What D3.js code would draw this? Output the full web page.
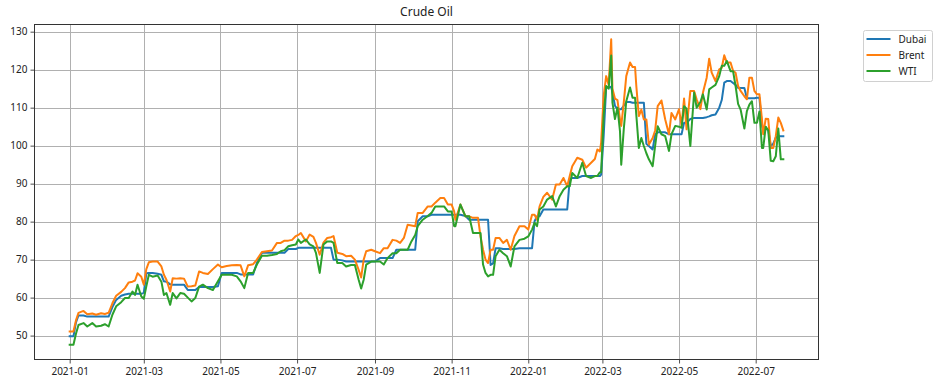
<!DOCTYPE html>
<html>
<head>
<meta charset="utf-8">
<script src="https://cdn.jsdelivr.net/npm/d3@7"></script>
<style>
  body { margin: 0; background: #fff; }
  #viz svg { display: block; }
</style>
</head>
<body>
<div id="viz"></div>
<script>
// dates shared by all three series (grouped by month)
const dates = [
  "2021-01-01","2021-01-04","2021-01-06","2021-01-08","2021-01-12","2021-01-15","2021-01-19","2021-01-22","2021-01-26","2021-01-29",
  "2021-02-01","2021-02-04","2021-02-07","2021-02-11","2021-02-14","2021-02-17","2021-02-20","2021-02-22","2021-02-24","2021-02-27",
  "2021-03-01","2021-03-03","2021-03-05","2021-03-08","2021-03-12","2021-03-15","2021-03-17","2021-03-19","2021-03-22","2021-03-24","2021-03-27","2021-03-30",
  "2021-04-02","2021-04-05","2021-04-08","2021-04-11","2021-04-14","2021-04-17","2021-04-21","2021-04-25","2021-04-29",
  "2021-05-02","2021-05-06","2021-05-10","2021-05-14","2021-05-17","2021-05-20","2021-05-23","2021-05-27","2021-05-30",
  "2021-06-03","2021-06-07","2021-06-11","2021-06-15","2021-06-18","2021-06-21","2021-06-24","2021-06-27","2021-06-30",
  "2021-07-02","2021-07-04","2021-07-08","2021-07-11","2021-07-14","2021-07-16","2021-07-19","2021-07-22","2021-07-25","2021-07-28","2021-07-30",
  "2021-08-02","2021-08-06","2021-08-09","2021-08-13","2021-08-16","2021-08-19","2021-08-21","2021-08-23","2021-08-25","2021-08-29",
  "2021-09-01","2021-09-05","2021-09-08","2021-09-11","2021-09-15","2021-09-18","2021-09-21","2021-09-24","2021-09-27","2021-09-30",
  "2021-10-03","2021-10-05","2021-10-09","2021-10-13","2021-10-16","2021-10-19","2021-10-23","2021-10-26","2021-10-29",
  "2021-11-01","2021-11-03","2021-11-04","2021-11-08","2021-11-12","2021-11-15","2021-11-18","2021-11-22","2021-11-24","2021-11-26","2021-11-28","2021-11-30",
  "2021-12-02","2021-12-04","2021-12-06","2021-12-09","2021-12-12","2021-12-15","2021-12-18","2021-12-21","2021-12-25","2021-12-29",
  "2022-01-01","2022-01-04","2022-01-06","2022-01-08","2022-01-10","2022-01-13","2022-01-16","2022-01-20","2022-01-23","2022-01-26","2022-01-29",
  "2022-02-01","2022-02-03","2022-02-05","2022-02-09","2022-02-13","2022-02-16","2022-02-20","2022-02-23","2022-02-25","2022-02-27","2022-02-28",
  "2022-03-02","2022-03-04","2022-03-06","2022-03-08","2022-03-09","2022-03-11","2022-03-13","2022-03-15","2022-03-16","2022-03-18","2022-03-20","2022-03-23","2022-03-25","2022-03-27","2022-03-28","2022-03-30",
  "2022-04-01","2022-04-03","2022-04-05","2022-04-07","2022-04-10","2022-04-12","2022-04-14","2022-04-17","2022-04-20","2022-04-23","2022-04-25","2022-04-28",
  "2022-05-01","2022-05-03","2022-05-05","2022-05-07","2022-05-10","2022-05-13","2022-05-15","2022-05-18","2022-05-20","2022-05-23","2022-05-25","2022-05-27","2022-05-30",
  "2022-06-02","2022-06-04","2022-06-06","2022-06-08","2022-06-11","2022-06-13","2022-06-15","2022-06-17","2022-06-19","2022-06-22","2022-06-24","2022-06-26","2022-06-28","2022-06-30",
  "2022-07-02","2022-07-04","2022-07-06","2022-07-07","2022-07-09","2022-07-11","2022-07-13","2022-07-15","2022-07-17","2022-07-19","2022-07-21","2022-07-23"
];

const dubai = [
  49.8,49.8,53.5,55.3,55.3,55.0,55.0,55.0,55.0,55.0,
  55.0,57.5,59.4,60.5,60.8,61.0,61.0,61.0,61.0,61.0,
  61.3,66.4,66.5,66.5,66.3,66.0,64.3,64.2,63.5,63.4,63.4,63.4,
  63.4,62.0,62.0,62.0,62.8,62.8,62.8,62.8,63.0,
  66.5,66.5,66.5,66.5,66.1,66.1,66.1,66.1,69.1,
  71.8,71.8,71.8,71.8,71.8,71.8,72.8,72.8,72.8,
  73.1,73.1,73.1,73.1,73.1,73.1,73.1,73.1,73.1,73.1,70.0,
  70.0,69.8,69.5,69.5,69.5,69.5,69.5,69.5,69.5,69.5,
  69.5,70.4,70.4,70.4,70.4,72.6,72.6,72.6,72.6,72.6,
  72.6,80.1,81.4,81.4,81.8,81.8,81.8,81.8,81.8,
  81.8,81.8,81.8,81.8,81.5,80.5,80.5,80.5,80.5,80.5,80.5,80.5,
  68.6,69.0,73.0,73.0,72.8,72.8,72.8,72.8,73.0,73.0,
  73.0,73.0,80.1,81.4,81.4,83.2,83.2,83.2,83.2,83.2,83.2,
  83.2,91.1,91.5,91.5,92.0,92.0,92.0,92.0,92.0,92.0,92.4,
  102.5,115.3,115.3,115.5,114.0,110.5,109.6,109.6,109.6,110.5,111.5,111.5,111.3,111.3,111.3,111.3,
  111.3,111.3,100.5,99.9,99.0,103.0,103.5,103.5,103.5,103.0,103.0,103.0,
  103.0,103.0,106.0,106.0,107.0,107.3,107.3,107.3,107.3,107.5,107.7,108.0,108.2,
  110.0,112.0,116.6,117.0,117.0,116.5,116.0,115.2,115.2,115.2,112.5,112.5,112.5,112.5,
  112.6,112.6,105.2,104.3,104.3,104.3,99.9,100.5,102.1,102.5,102.5,102.5
];

const brent = [
  51.1,51.1,54.0,56.0,56.5,55.6,55.8,55.5,55.9,55.7,
  56.0,58.5,60.5,61.5,62.5,64.0,64.2,64.5,66.4,65.5,
  63.4,67.5,69.3,69.5,69.5,68.2,66.0,64.7,61.6,65.1,65.0,65.1,
  65.0,62.9,63.0,63.2,66.9,66.5,66.2,67.5,68.7,
  68.0,68.3,68.5,68.6,68.5,65.6,68.5,68.8,70.0,
  72.0,72.2,72.4,74.4,74.4,75.0,75.0,75.2,76.2,
  76.5,77.0,74.8,76.6,76.0,74.4,71.3,74.5,75.7,75.9,76.2,
  71.8,71.5,70.9,71.0,70.0,67.3,65.3,70.0,72.2,72.6,
  72.2,71.7,73.0,73.0,75.2,75.0,74.4,75.7,79.2,79.0,
  78.8,82.3,82.3,84.0,84.0,85.0,86.2,86.2,84.5,
  84.5,82.7,80.5,84.5,81.4,81.4,81.0,81.0,76.1,72.6,70.0,69.1,
  72.6,72.6,75.7,75.7,74.4,75.2,72.6,76.2,78.8,78.8,
  77.9,81.8,81.8,80.5,84.0,86.5,87.6,85.8,89.8,89.8,91.5,
  89.3,92.0,94.6,96.8,96.3,94.2,95.5,96.5,99.0,98.5,100.8,
  113.1,118.3,116.0,128.0,115.0,112.4,112.0,106.9,105.2,111.3,118.3,121.9,120.7,120.7,115.7,107.8,
  109.5,106.9,106.9,100.3,102.0,104.0,110.4,111.9,106.9,103.0,108.6,106.9,
  109.6,105.2,112.4,104.3,114.4,114.4,112.2,109.6,113.9,117.9,122.9,119.2,117.0,
  120.1,120.5,123.8,121.9,121.9,119.7,119.2,115.7,114.4,113.0,112.2,117.9,117.9,114.4,
  113.5,113.5,106.9,103.0,107.1,107.0,99.4,99.4,102.5,107.4,106.0,104.0
];

const wti = [
  47.6,47.6,50.5,52.8,53.3,52.4,53.3,52.4,52.6,53.0,
  52.4,55.5,57.7,58.8,59.9,59.9,61.6,60.7,63.4,60.3,
  59.7,63.0,66.0,65.5,65.8,64.2,60.7,61.2,58.1,61.2,59.8,61.2,
  61.0,60.0,59.0,59.9,62.9,63.4,62.5,62.0,64.3,
  66.0,66.0,66.0,65.6,64.3,62.5,66.5,66.5,68.7,
  71.0,71.0,71.2,71.5,72.2,72.5,73.5,73.8,74.0,
  75.3,74.4,75.3,74.0,73.5,71.8,66.5,74.0,74.8,74.8,74.4,
  69.1,69.1,68.2,68.6,68.6,64.7,62.4,64.7,68.7,69.5,
  69.5,69.5,68.7,70.4,71.7,71.7,72.6,72.6,72.6,74.8,
  76.5,78.8,80.5,81.5,82.3,84.0,84.0,84.0,82.7,
  82.7,78.8,78.8,84.5,81.4,81.4,77.0,77.0,77.0,68.7,66.5,65.6,
  66.0,66.0,70.9,72.6,71.7,70.9,68.2,73.5,75.2,75.5,
  76.1,77.9,79.7,78.8,83.2,84.0,85.8,86.7,84.0,86.7,88.4,
  89.3,89.3,92.8,91.5,95.5,92.0,91.5,92.0,92.0,93.0,93.0,
  108.0,115.7,115.0,123.7,111.3,107.0,110.0,103.8,95.0,104.3,111.7,115.3,112.6,112.6,108.0,99.4,
  102.0,99.9,98.0,96.4,94.6,100.0,105.1,103.0,102.5,98.6,103.0,105.2,
  105.0,104.7,110.4,109.7,99.9,114.0,110.0,111.5,113.5,109.5,114.8,115.3,116.0,
  118.3,121.0,121.0,122.3,119.6,119.6,115.7,111.0,109.5,104.5,109.1,110.8,111.7,106.0,
  106.0,109.0,99.4,99.4,105.0,104.0,96.0,95.9,97.2,104.5,96.4,96.4
];

const seriesNames = ["Dubai", "Brent", "WTI"];
const seriesColors = ["#1f77b4", "#ff7f0e", "#2ca02c"];
const yTicks = [50, 60, 70, 80, 90, 100, 110, 120, 130];
const chartTitle = "Crude Oil";

buildChart();

function buildChart() {
  const W = 939, H = 386;
  const m = {left: 34, right: 819, top: 24, bottom: 360};
  const font = "'Noto Sans', 'DejaVu Sans', sans-serif";

  const parse = d3.timeParse("%Y-%m-%d");
  const dt = dates.map(parse);
  const series = [dubai, brent, wti].map((vals, i) => ({
    name: seriesNames[i],
    color: seriesColors[i],
    values: vals.map((v, j) => ({date: dt[j], v: v}))
  }));

  // matplotlib style 5% margins around the data
  const t0 = +d3.min(dt), t1 = +d3.max(dt);
  const tPad = (t1 - t0) * 0.05;
  const all = [].concat(dubai, brent, wti);
  const v0 = d3.min(all), v1 = d3.max(all);
  const vPad = (v1 - v0) * 0.05;

  const x = d3.scaleTime()
    .domain([new Date(t0 - tPad), new Date(t1 + tPad)])
    .range([m.left, m.right]);
  const y = d3.scaleLinear()
    .domain([v0 - vPad, v1 + vPad])
    .range([m.bottom, m.top]);

  const svg = d3.select("#viz").append("svg")
    .attr("width", W)
    .attr("height", H)
    .style("font-family", font);

  const xTickVals = x.ticks(d3.timeMonth.every(2));

  // grid
  const grid = svg.append("g")
    .attr("stroke", "#b0b0b0")
    .attr("stroke-width", 1);
  grid.selectAll("line.gx")
    .data(xTickVals)
    .join("line")
      .attr("class", "gx")
      .attr("x1", d => Math.round(x(d)) + 0.5)
      .attr("x2", d => Math.round(x(d)) + 0.5)
      .attr("y1", m.top)
      .attr("y2", m.bottom);
  grid.selectAll("line.gy")
    .data(yTicks)
    .join("line")
      .attr("class", "gy")
      .attr("x1", m.left)
      .attr("x2", m.right)
      .attr("y1", d => Math.round(y(d)) + 0.5)
      .attr("y2", d => Math.round(y(d)) + 0.5);

  // lines, clipped to the axes box
  svg.append("clipPath").attr("id", "clip")
    .append("rect")
      .attr("x", m.left).attr("y", m.top)
      .attr("width", m.right - m.left).attr("height", m.bottom - m.top);

  const line = d3.line()
    .x(d => x(d.date))
    .y(d => y(d.v));

  svg.append("g")
    .attr("clip-path", "url(#clip)")
  .selectAll("path")
  .data(series)
  .join("path")
    .attr("fill", "none")
    .attr("stroke", d => d.color)
    .attr("stroke-width", 2)
    .attr("stroke-linejoin", "round")
    .attr("stroke-linecap", "square")
    .attr("d", d => line(d.values));

  // axes
  const xAxis = d3.axisBottom(x)
    .tickValues(xTickVals)
    .tickFormat(d3.timeFormat("%Y-%m"))
    .tickSizeInner(3.5)
    .tickSizeOuter(0)
    .tickPadding(4);
  const yAxis = d3.axisLeft(y)
    .tickValues(yTicks)
    .tickSizeInner(3.5)
    .tickSizeOuter(0)
    .tickPadding(3);

  const gx = svg.append("g")
    .attr("transform", `translate(0,${m.bottom})`)
    .call(xAxis);
  const gy = svg.append("g")
    .attr("transform", `translate(${m.left},0)`)
    .call(yAxis);
  [gx, gy].forEach(g => {
    g.select(".domain").remove();
    g.selectAll("text")
      .attr("fill", "#222")
      .style("font-size", "10px")
      .style("font-family", font);
    g.selectAll(".tick line").attr("stroke", "#222").attr("stroke-width", 0.8);
  });

  // frame
  svg.append("rect")
    .attr("x", m.left + 0.5).attr("y", m.top + 0.5)
    .attr("width", m.right - m.left - 1).attr("height", m.bottom - m.top - 1)
    .attr("fill", "none")
    .attr("stroke", "#333")
    .attr("stroke-width", 1);

  svg.append("text")
    .attr("x", (m.left + m.right) / 2)
    .attr("y", 16)
    .attr("text-anchor", "middle")
    .style("font-size", "12px")
    .attr("fill", "#222")
    .text(chartTitle);

  // legend
  const lg = svg.append("g").attr("transform", "translate(863.5,30.5)");
  lg.append("rect")
    .attr("width", 69).attr("height", 51)
    .attr("rx", 2)
    .attr("fill", "#fff").attr("fill-opacity", 0.8)
    .attr("stroke", "#d0d0d0");
  const item = lg.selectAll("g")
    .data(series)
    .join("g")
      .attr("transform", (d, i) => `translate(0,${8.5 + i * 16})`);
  item.append("line")
    .attr("x1", 3).attr("x2", 27)
    .attr("stroke", d => d.color)
    .attr("stroke-width", 2);
  item.append("text")
    .attr("x", 35)
    .attr("dy", "0.35em")
    .style("font-size", "10px")
    .attr("fill", "#222")
    .text(d => d.name);
}
</script>
</body>
</html>
